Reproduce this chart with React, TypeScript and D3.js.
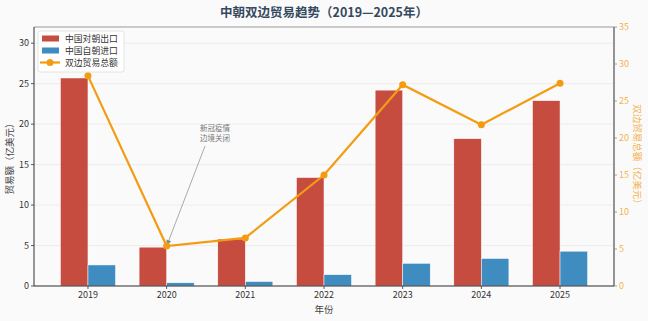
import React from "react";
import * as d3 from "d3";

const years = ["2019", "2020", "2021", "2022", "2023", "2024", "2025"];
const exportsCN = [25.7, 4.8, 5.8, 13.4, 24.2, 18.2, 22.9];
const importsCN = [2.6, 0.4, 0.55, 1.4, 2.8, 3.4, 4.3];
const totals = [28.4, 5.4, 6.5, 15.0, 27.2, 21.8, 27.4];
const leftTicks = [0, 5, 10, 15, 20, 25, 30];
const rightTicks = [0, 5, 10, 15, 20, 25, 30, 35];

const W = 648, H = 321;
const L = 34, R = 614, T = 27, B = 286;
const FONT = "'Noto Sans CJK SC', 'Noto Sans', sans-serif";
const RED = "#c0392b", BLUE = "#2980b9", ORANGE = "#f39c12";

export default function App() {
  const x = d3.scaleLinear().domain([-0.686, 6.686]).range([L, R]);
  const yL = d3.scaleLinear().domain([0, 32]).range([B, T]);
  const yR = d3.scaleLinear().domain([0, 35]).range([B, T]);
  const bw = x(0.35) - x(0);
  const line = d3.line<number>().x((_, i) => x(i)).y((d) => yR(d));
  const ax = x(1), ay = yR(totals[1]);
  const sx = 205, sy = 146;
  const ang = Math.atan2(ay - sy, ax - sx);
  const hl = 6, hw = 2.5;
  const p1 = [ax - hl * Math.cos(ang) + hw * Math.sin(ang), ay - hl * Math.sin(ang) - hw * Math.cos(ang)];
  const p2 = [ax - hl * Math.cos(ang) - hw * Math.sin(ang), ay - hl * Math.sin(ang) + hw * Math.cos(ang)];
  return (
    <div style={{ position: "absolute", left: 0, top: 0 }}>
      <svg width={W} height={H} style={{ display: "block", fontFamily: FONT }}>
        <rect x={0} y={0} width={W} height={H} fill="#fafafa" />
        <text x={324} y={17} textAnchor="middle" fontSize={12.5} fontWeight="bold" fill="#34495e">
          中朝双边贸易趋势（2019—2025年）
        </text>
        {leftTicks.map((t) => (
          <line key={"g" + t} x1={L} x2={R} y1={yL(t)} y2={yL(t)} stroke="#e6e6e6" strokeWidth={0.7} />
        ))}
        {years.map((yr, i) => (
          <g key={yr}>
            <rect x={x(i) - bw} y={yL(exportsCN[i])} width={bw} height={B - yL(exportsCN[i])} fill={RED} fillOpacity={0.9} stroke="#fff" strokeWidth={0.5} />
            <rect x={x(i)} y={yL(importsCN[i])} width={bw} height={B - yL(importsCN[i])} fill={BLUE} fillOpacity={0.9} stroke="#fff" strokeWidth={0.5} />
          </g>
        ))}
        {/* annotation */}
        <line x1={sx} y1={sy} x2={ax} y2={ay} stroke="#888" strokeWidth={0.7} />
        <path d={`M${ax},${ay}L${p1[0]},${p1[1]}L${p2[0]},${p2[1]}Z`} fill="#888" />
        <text x={215} y={131} textAnchor="middle" fontSize={7.5} fill="#777">新冠疫情</text>
        <text x={215} y={141} textAnchor="middle" fontSize={7.5} fill="#777">边境关闭</text>
        {/* spines */}
        <line x1={L} x2={R} y1={T} y2={T} stroke="#999" strokeWidth={1} />
        <line x1={R} x2={R} y1={T} y2={B} stroke="#888" strokeWidth={1.8} />
        <line x1={L} x2={L} y1={T} y2={B} stroke="#333" strokeWidth={1} />
        <line x1={L} x2={R} y1={B} y2={B} stroke="#333" strokeWidth={1} />
        {/* left axis */}
        {leftTicks.map((t) => (
          <g key={"l" + t}>
            <line x1={L - 3} x2={L} y1={yL(t)} y2={yL(t)} stroke="#333" strokeWidth={0.8} />
            <text x={L - 5} y={yL(t)} dy="0.35em" textAnchor="end" fontSize={9} fill="#333">{t}</text>
          </g>
        ))}
        {/* right axis */}
        {rightTicks.map((t) => (
          <g key={"r" + t}>
            <line x1={R} x2={R + 3} y1={yR(t)} y2={yR(t)} stroke="#888" strokeWidth={0.8} />
            <text x={R + 5} y={yR(t)} dy="0.35em" textAnchor="start" fontSize={9} fill={ORANGE} fillOpacity={0.8}>{t}</text>
          </g>
        ))}
        {/* x axis */}
        {years.map((yr, i) => (
          <g key={"x" + yr}>
            <line x1={x(i)} x2={x(i)} y1={B} y2={B + 3} stroke="#333" strokeWidth={0.8} />
            <text x={x(i)} y={B + 12} textAnchor="middle" fontSize={9} fill="#333">{yr}</text>
          </g>
        ))}
        <text x={324} y={313} textAnchor="middle" fontSize={9.5} fill="#444">年份</text>
        <text transform={`translate(13,${(T + B) / 2}) rotate(-90)`} textAnchor="middle" fontSize={9.5} fill="#444">贸易额（亿美元）</text>
        <text transform={`translate(634,${(T + B) / 2}) rotate(90)`} textAnchor="middle" fontSize={9.5} fill={ORANGE} fillOpacity={0.8}>双边贸易总额（亿美元）</text>
        <path d={line(totals) || ""} fill="none" stroke={ORANGE} strokeWidth={2.2} />
        {totals.map((v, i) => (
          <circle key={"m" + i} cx={x(i)} cy={yR(v)} r={3.5} fill={ORANGE} />
        ))}
        {/* legend */}
        <g>
          <rect x={38} y={31} width={86} height={41} rx={2} fill="#fff" fillOpacity={0.85} stroke="#ddd" strokeWidth={0.8} />
          <rect x={42} y={35.5} width={17} height={6} fill={RED} fillOpacity={0.9} />
          <text x={65} y={38.5} dy="0.35em" fontSize={8.8} fill="#333">中国对朝出口</text>
          <rect x={42} y={47.5} width={17} height={6} fill={BLUE} fillOpacity={0.9} />
          <text x={65} y={50.5} dy="0.35em" fontSize={8.8} fill="#333">中国自朝进口</text>
          <line x1={40} x2={60} y1={62.5} y2={62.5} stroke={ORANGE} strokeWidth={2.2} />
          <circle cx={50} cy={62.5} r={3.5} fill={ORANGE} />
          <text x={65} y={62.5} dy="0.35em" fontSize={8.8} fill="#333">双边贸易总额</text>
        </g>
      </svg>
    </div>
  );
}
